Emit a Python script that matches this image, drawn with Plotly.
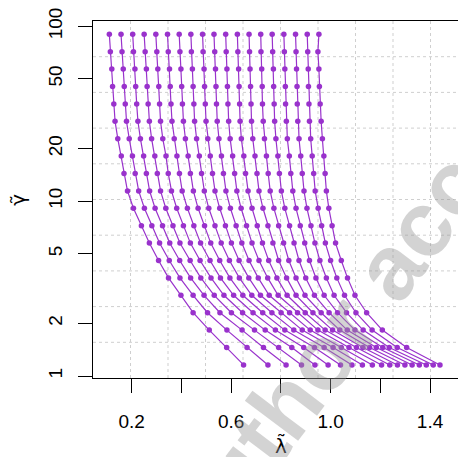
import plotly.graph_objects as go

# gamma-tilde levels (rows, top to bottom)
gamma = [89.95, 71.53, 56.89, 45.24, 35.97, 28.61, 22.75, 18.09, 14.39, 11.44,
         9.10, 7.236, 5.754, 4.576, 3.639, 2.894, 2.301, 1.830, 1.455, 1.157]

# lambda-tilde values of each curve, one value per gamma level
lam_c01 = [0.110, 0.114, 0.120, 0.123, 0.128, 0.133, 0.144, 0.158, 0.169, 0.183, 0.207, 0.239, 0.271, 0.308, 0.348, 0.398, 0.447, 0.512, 0.582, 0.650]
lam_c02 = [0.157, 0.161, 0.166, 0.170, 0.174, 0.179, 0.190, 0.203, 0.214, 0.228, 0.251, 0.281, 0.312, 0.351, 0.394, 0.447, 0.505, 0.583, 0.664, 0.748]
lam_c03 = [0.204, 0.207, 0.213, 0.216, 0.220, 0.225, 0.235, 0.248, 0.259, 0.272, 0.294, 0.324, 0.353, 0.393, 0.437, 0.491, 0.555, 0.644, 0.730, 0.821]
lam_c04 = [0.250, 0.254, 0.259, 0.262, 0.266, 0.271, 0.280, 0.293, 0.303, 0.316, 0.337, 0.366, 0.394, 0.435, 0.478, 0.532, 0.601, 0.694, 0.791, 0.883]
lam_c05 = [0.297, 0.301, 0.305, 0.309, 0.312, 0.316, 0.325, 0.338, 0.347, 0.360, 0.381, 0.408, 0.436, 0.475, 0.519, 0.571, 0.646, 0.737, 0.844, 0.937]
lam_c06 = [0.344, 0.347, 0.352, 0.355, 0.358, 0.362, 0.371, 0.382, 0.392, 0.403, 0.424, 0.450, 0.477, 0.515, 0.557, 0.610, 0.688, 0.778, 0.892, 0.990]
lam_c07 = [0.391, 0.394, 0.398, 0.401, 0.404, 0.408, 0.416, 0.427, 0.436, 0.448, 0.467, 0.493, 0.518, 0.554, 0.595, 0.647, 0.727, 0.816, 0.935, 1.040]
lam_c08 = [0.438, 0.440, 0.444, 0.447, 0.450, 0.453, 0.461, 0.472, 0.481, 0.492, 0.510, 0.535, 0.560, 0.593, 0.633, 0.683, 0.764, 0.852, 0.974, 1.086]
lam_c09 = [0.485, 0.487, 0.491, 0.493, 0.496, 0.499, 0.506, 0.516, 0.525, 0.535, 0.554, 0.577, 0.601, 0.632, 0.671, 0.718, 0.801, 0.886, 1.010, 1.128]
lam_c10 = [0.531, 0.534, 0.537, 0.539, 0.541, 0.544, 0.551, 0.561, 0.569, 0.579, 0.597, 0.620, 0.643, 0.672, 0.709, 0.753, 0.835, 0.918, 1.043, 1.168]
lam_c11 = [0.578, 0.580, 0.583, 0.585, 0.587, 0.590, 0.596, 0.606, 0.614, 0.623, 0.640, 0.662, 0.684, 0.712, 0.747, 0.789, 0.867, 0.949, 1.074, 1.205]
lam_c12 = [0.625, 0.627, 0.630, 0.632, 0.634, 0.636, 0.641, 0.651, 0.658, 0.668, 0.684, 0.705, 0.726, 0.751, 0.784, 0.825, 0.898, 0.978, 1.104, 1.238]
lam_c13 = [0.672, 0.674, 0.676, 0.678, 0.680, 0.682, 0.687, 0.696, 0.704, 0.712, 0.728, 0.748, 0.768, 0.791, 0.823, 0.861, 0.929, 1.008, 1.130, 1.269]
lam_c14 = [0.719, 0.720, 0.723, 0.725, 0.726, 0.729, 0.734, 0.742, 0.749, 0.757, 0.772, 0.791, 0.811, 0.832, 0.861, 0.897, 0.962, 1.037, 1.157, 1.299]
lam_c15 = [0.765, 0.767, 0.770, 0.771, 0.773, 0.775, 0.780, 0.788, 0.794, 0.802, 0.816, 0.835, 0.853, 0.873, 0.900, 0.935, 0.994, 1.067, 1.184, 1.328]
lam_c16 = [0.812, 0.814, 0.816, 0.818, 0.819, 0.822, 0.826, 0.834, 0.840, 0.848, 0.861, 0.878, 0.896, 0.915, 0.941, 0.974, 1.028, 1.098, 1.210, 1.357]
lam_c17 = [0.859, 0.861, 0.863, 0.865, 0.866, 0.868, 0.873, 0.880, 0.886, 0.893, 0.905, 0.921, 0.937, 0.957, 0.983, 1.014, 1.064, 1.131, 1.236, 1.385]
lam_c18 = [0.906, 0.908, 0.910, 0.911, 0.913, 0.915, 0.920, 0.926, 0.932, 0.938, 0.950, 0.964, 0.979, 1.000, 1.025, 1.056, 1.102, 1.167, 1.268, 1.413]
lam_c19 = [0.953, 0.949, 0.953, 0.955, 0.958, 0.962, 0.967, 0.973, 0.978, 0.983, 0.993, 1.006, 1.020, 1.043, 1.068, 1.098, 1.145, 1.208, 1.306, 1.440]

curves = [lam_c01, lam_c02, lam_c03, lam_c04, lam_c05, lam_c06, lam_c07, lam_c08,
          lam_c09, lam_c10, lam_c11, lam_c12, lam_c13, lam_c14, lam_c15, lam_c16,
          lam_c17, lam_c18, lam_c19]

x_tickvals = [0.2, 0.4, 0.6, 0.8, 1.0, 1.2, 1.4]
x_ticktext = ["0.2", "", "0.6", "", "1.0", "", "1.4"]
y_tickvals = [1, 2, 5, 10, 20, 50, 100]
y_ticktext = ["1", "2", "5", "10", "20", "50", "100"]

PURPLE = "#9932CC"
FONT = "Liberation Sans, Arial, Helvetica, sans-serif"
TITLE_FONT = "DejaVu Sans, Liberation Sans, sans-serif"

fig = go.Figure()
for c in curves:
    fig.add_trace(go.Scatter(
        x=c, y=gamma, mode="lines+markers",
        line=dict(color=PURPLE, width=1.2),
        marker=dict(color=PURPLE, size=5.5, line=dict(width=0)),
        showlegend=False, hoverinfo="skip"))

x_range = [0.0443, 1.5447]
x_full_right = 1.5528
y_range = [-0.0114, 2.030]

shapes = []
step = (x_full_right - x_range[0]) / 10
for k in range(1, 10):
    xv = x_range[0] + k * step
    shapes.append(dict(type="line", xref="x", yref="paper", x0=xv, x1=xv, y0=0, y1=1,
                       line=dict(color="#cfcfcf", width=1, dash="3px,3px"), layer="below"))
for k in range(1, 10):
    shapes.append(dict(type="line", xref="paper", yref="paper", x0=0, x1=1, y0=k / 10, y1=k / 10,
                       line=dict(color="#cfcfcf", width=1, dash="3px,3px"), layer="below"))

annotations = [
    dict(text="\u03b3\u0303", xref="paper", yref="paper", x=-0.203, y=0.5,
         showarrow=False, textangle=-90, font=dict(family=TITLE_FONT, size=20, color="black"),
         xanchor="center", yanchor="middle"),
    dict(text="\u03bb\u0303", xref="paper", yref="paper", x=0.503, y=-0.19,
         showarrow=False, font=dict(family=TITLE_FONT, size=20, color="black"),
         xanchor="center", yanchor="middle"),
    dict(text="<b>Author accepted manuscript</b>", xref="paper", yref="paper", x=1.23, y=0.916,
         showarrow=False, textangle=-53, font=dict(family=FONT, size=92, color="rgba(150,150,150,0.42)"),
         xanchor="center", yanchor="middle"),
]

# the page body adds an 8px offset, so the figure is 8px smaller and margins shifted
fig.update_layout(
    width=458, height=449,
    margin=dict(l=85, r=0, t=13, b=79, autoexpand=False),
    paper_bgcolor="white", plot_bgcolor="white",
    font=dict(family=FONT, size=19, color="black"),
    shapes=shapes, annotations=annotations,
    xaxis=dict(range=x_range, tickvals=x_tickvals, ticktext=x_ticktext, automargin=False,
               showgrid=False, zeroline=False, showline=True, linecolor="black",
               linewidth=1.2, mirror=True, ticks="outside", ticklen=14, tickwidth=1.2,
               tickcolor="black", tickfont=dict(size=19), ticklabelstandoff=12,
               ticklabeloverflow="allow"),
    yaxis=dict(type="log", range=y_range, tickvals=y_tickvals, ticktext=y_ticktext, automargin=False,
               showgrid=False, zeroline=False, showline=True, linecolor="black",
               linewidth=1.2, mirror=False, ticks="outside", ticklen=14, tickwidth=1.2,
               tickcolor="black", tickangle=-90, tickfont=dict(size=19), ticklabelstandoff=8,
               ticklabeloverflow="allow"),
)

fig.write_html("out.html")
